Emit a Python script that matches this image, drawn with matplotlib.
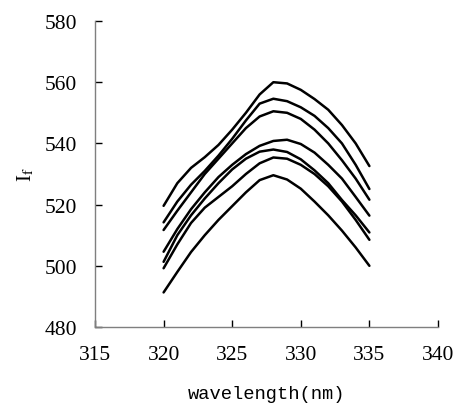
import matplotlib
matplotlib.use("Agg")
import matplotlib.pyplot as plt

# wavelength (nm)
wavelength = [320, 321, 322, 323, 324, 325, 326, 327, 328, 329, 330, 331, 332, 333, 334, 335]

# fluorescence intensity, one list per curve (top to bottom)
curve1 = [519.6, 527.0, 532.0, 535.5, 539.5, 544.5, 550.0, 556.0, 560.0, 559.6, 557.5, 554.5, 551.0, 546.0, 540.0, 532.6]
curve2 = [514.2, 521.0, 526.5, 531.0, 536.0, 541.5, 547.5, 553.0, 554.6, 553.8, 551.8, 549.0, 545.0, 540.0, 533.0, 525.1]
curve3 = [511.7, 518.0, 524.0, 530.0, 535.0, 540.0, 545.0, 548.8, 550.5, 550.0, 548.0, 544.5, 540.0, 534.5, 528.5, 521.6]
curve4 = [504.6, 512.0, 518.5, 524.0, 529.0, 533.0, 536.5, 539.2, 540.8, 541.2, 539.8, 537.0, 533.0, 528.5, 522.5, 516.4]
curve5 = [501.3, 510.0, 516.5, 522.0, 527.0, 531.5, 535.0, 537.3, 538.0, 537.2, 534.8, 531.2, 527.0, 521.5, 516.5, 510.9]
curve6 = [499.2, 507.0, 514.0, 519.0, 522.5, 526.0, 530.0, 533.5, 535.4, 535.0, 533.0, 530.0, 526.0, 521.0, 515.0, 508.5]
curve7 = [491.3, 498.0, 504.5, 510.0, 515.0, 519.5, 524.0, 528.0, 529.6, 528.2, 525.2, 521.0, 516.5, 511.5, 506.0, 500.0]

curves = [curve1, curve2, curve3, curve4, curve5, curve6, curve7]

plt.rcParams['font.family'] = ['Liberation Serif', 'DejaVu Serif']
plt.rcParams['mathtext.fontset'] = 'stix'

fig = plt.figure(figsize=(4.55, 4.06), dpi=100)
ax = fig.add_axes([0.2088, 0.1921, 0.7538, 0.7537])

for c in curves:
    ax.plot(wavelength, c, color='black', linewidth=1.8,
            solid_joinstyle='round', solid_capstyle='round')

ax.set_xlim(315, 340)
ax.set_ylim(480, 580)
ax.set_xticks([315, 320, 325, 330, 335, 340])
ax.set_yticks([480, 500, 520, 540, 560, 580])

ax.spines['top'].set_visible(False)
ax.spines['right'].set_visible(False)
for s in ['left', 'bottom']:
    ax.spines[s].set_color('#7f7f7f')
    ax.spines[s].set_linewidth(1.0)

ax.tick_params(direction='in', length=5, width=1.0, color='black',
               labelsize=15.5, pad=13)

ax.set_xlabel('wavelength(nm)', family='Liberation Mono', fontsize=13.5, labelpad=15)
ax.set_ylabel('I$_\\mathrm{f}$', fontsize=15, labelpad=6)

fig.savefig('out.png', dpi=100)
